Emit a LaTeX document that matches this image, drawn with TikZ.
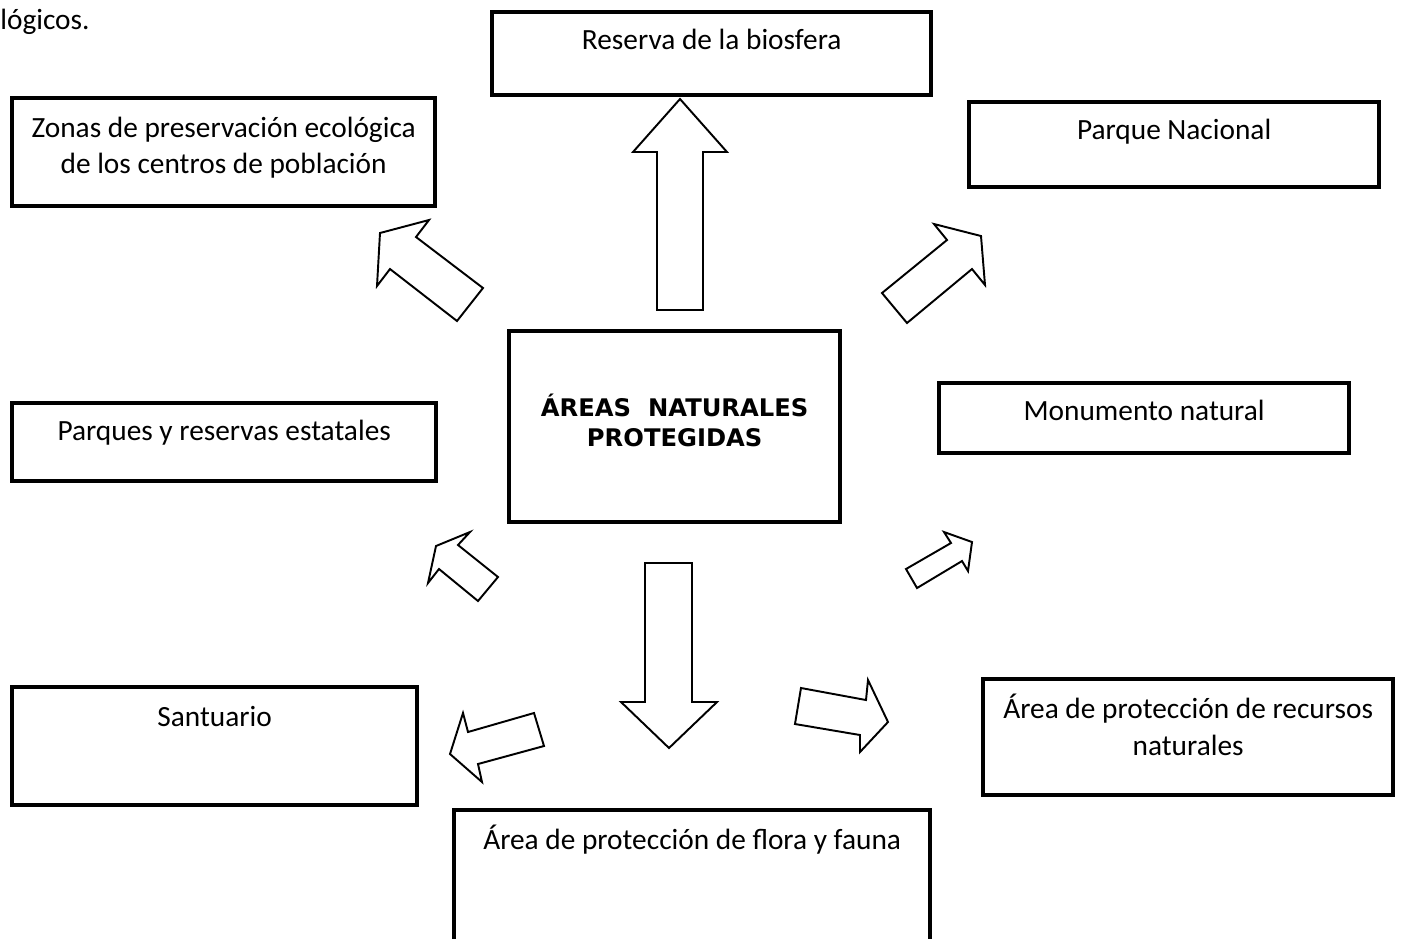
\documentclass[tikz,border=0pt]{standalone}
\usepackage{fontspec}
\setmainfont{Carlito}
\newfontfamily\titulofont{DejaVu Sans}
\usetikzlibrary{positioning}

\begin{document}
\begin{tikzpicture}[x=0.02cm,y=-0.02cm,
  caja/.style={draw,line width=2.5pt,inner sep=0pt,anchor=north west},
  texto/.style={font=\fontsize{16.7}{21}\selectfont,align=center,inner sep=0pt,anchor=base},
  flecha/.style={draw,line width=1.1pt,fill=white}]

\useasboundingbox (0,0) rectangle (1402,938);
\clip (0,0) rectangle (1402,938);

% cajas
\node[caja,minimum width=8.78cm,minimum height=1.66cm] (biosfera) at (490,10) {};
\node[caja,minimum width=8.46cm,minimum height=2.16cm] (zonas) at (10,96) {};
\node[caja,minimum width=8.2cm,minimum height=1.7cm] (parque) at (967,100) {};
\node[caja,minimum width=6.62cm,minimum height=3.82cm] (anp) at (507,329) {};
\node[caja,minimum width=8.2cm,minimum height=1.4cm] (monumento) at (937,381) {};
\node[caja,minimum width=8.48cm,minimum height=1.56cm] (estatales) at (10,401) {};
\node[caja,minimum width=8.1cm,minimum height=2.36cm] (santuario) at (10,685) {};
\node[caja,minimum width=8.2cm,minimum height=2.32cm] (recursos) at (981,677) {};
\node[caja,minimum width=9.52cm,minimum height=3cm] (flora) at (452,808) {};

% textos
\node[texto,anchor=base west] (logicos) at (0,29) {lógicos.};
\node[texto] (biosfera-t) at ([yshift=-0.78cm]biosfera.north) {Reserva de la biosfera};
\node[texto] (zonas-t) at ([yshift=-1.56cm]zonas.north) {Zonas de preservación ecológica\\de los centros de población};
\node[texto] (parque-t) at ([yshift=-0.78cm]parque.north) {Parque Nacional};
\node[font=\titulofont\bfseries\fontsize{13.8}{17}\selectfont,align=center,inner sep=0pt] (anp-t)
  at ([yshift=0.12cm]anp.center) {ÁREAS\ \ NATURALES\\PROTEGIDAS};
\node[texto] (monumento-t) at ([yshift=-0.78cm]monumento.north) {Monumento natural};
\node[texto] (estatales-t) at ([yshift=-0.78cm]estatales.north) {Parques y reservas estatales};
\node[texto] (santuario-t) at ([yshift=-0.82cm]santuario.north) {Santuario};
\node[texto] (recursos-t) at ([yshift=-1.56cm]recursos.north) {Área de protección de recursos\\naturales};
\node[texto] (flora-t) at ([yshift=-0.82cm]flora.north) {Área de protección de flora y fauna};

% flechas
\draw[flecha] (680,99) -- (727,152) -- (703,152) -- (703,310) -- (657,310) -- (657,152) -- (633,152) -- cycle;
\draw[flecha] (380,233) -- (429,220) -- (416,237) -- (483,288) -- (457,321) -- (390,269) -- (377,286) -- cycle;
\draw[flecha] (934,224) -- (981,236) -- (985,285) -- (972,269) -- (907,323) -- (882,293) -- (947,240) -- cycle;
\draw[flecha] (470,532) -- (436,546) -- (428,583) -- (439,569) -- (478,601) -- (498,577) -- (458,545) -- cycle;
\draw[flecha] (944,532) -- (972,542) -- (968,571) -- (962,561) -- (917,588) -- (906,569) -- (951,543) -- cycle;
\draw[flecha] (645,563) -- (692,563) -- (692,702) -- (717,702) -- (669,748) -- (621,702) -- (645,702) -- cycle;
\draw[flecha] (463,713) -- (450,754) -- (482,782) -- (478,764) -- (544,746) -- (534,713) -- (468,732) -- cycle;
\draw[flecha] (868,680) -- (888,722) -- (860,752) -- (860,735) -- (795,724) -- (801,688) -- (866,700) -- cycle;

\end{tikzpicture}
\end{document}
